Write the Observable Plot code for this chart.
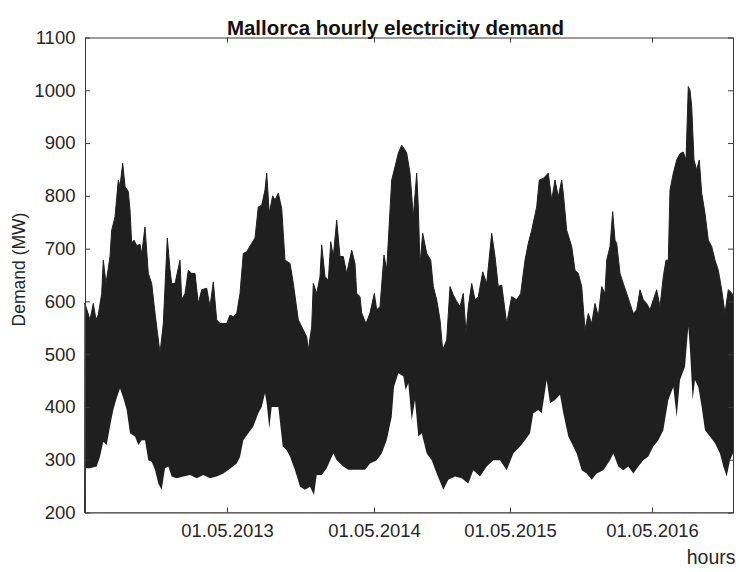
<!DOCTYPE html>
<html>
<head>
<meta charset="utf-8">
<script src="https://cdn.jsdelivr.net/npm/d3@7"></script>
<script src="https://cdn.jsdelivr.net/npm/@observablehq/plot@0.6"></script>
<style>
  html, body { margin: 0; padding: 0; background: #fff; }
</style>
</head>
<body>
<div id="chart"></div>
<script>
// Upper envelope of the hourly demand (hour index, MW)
const hoursUpper = [0,310,515,682,825,1035,1135,1302,1550,1655,1860,2065,2170,2337,2480,2685,2790,2895,3038,3205,3410,3515,3720,3925,4135,4340,4650,4855,5103,5270,5375,5580,5890,5995,6200,6405,6615,6820,7025,7235,7545,7750,7955,8165,8370,8785,8990,9195,9405,9610,9815,10025,10335,10540,10745,10955,11160,11265,11425,11635,11780,11985,12195,12400,12710,12915,13225,13535,13745,13845,14055,14155,14365,14570,14675,14880,15085,15235,15395,15605,15810,16015,16225,16535,16740,16845,17050,17155,17422,17670,17937,18085,18290,18538,18705,19015,19220,19425,19635,19840,19945,20150,20355,20565,20665,20770,20937,21185,21435,21595,21805,22010,22177,22425,22630,22835,23045,23250,23455,23622,23765,23975,24180,24385,24657,24905,25215,25420,25625,25835,26145,26455,26765,27013,27280,27485,27695,28005,28167,28415,28725,28935,29140,29345,29555,29655,29865,30175,30380,30585,30795,31000,31205,31415,31620,31825,32035,32240,32345,32550,32717,32860,32965,33170,33375,33585,33790,33995,34205,34410,34615,34825,35030,35235,35445,35650,35855,36022,36165,36270,36475,36685,36890,37095,37262,37405,37510,37615,37758,37925,38087,38235,38440,38645,38855,39060,39265,39475,39680,39885,40095,40176];
const demandUpper = [596,565,596,565,575,615,678,634,685,735,760,830,818,862,818,808,773,710,716,706,708,690,741,653,634,578,502,558,720,660,634,634,678,603,615,659,653,653,596,622,625,590,637,565,558,558,574,571,577,615,691,694,710,720,779,782,811,843,767,800,792,805,776,678,672,634,565,546,533,508,552,634,615,647,707,647,640,713,685,754,685,685,653,697,672,615,609,578,558,578,615,584,590,688,659,830,855,881,896,887,881,843,760,843,779,669,729,691,678,628,603,565,508,527,628,612,600,590,615,540,590,634,603,609,656,634,729,685,628,631,558,609,603,615,678,710,735,779,830,833,843,792,830,798,830,805,735,704,659,653,628,546,577,558,596,571,628,615,678,704,770,716,710,653,634,615,596,577,584,622,603,596,584,603,622,590,647,678,678,811,843,868,880,883,868,1007,1000,969,868,849,868,805,767,716,704,678,659,622,577,622,616,610];

// Lower envelope of the hourly demand (hour index, MW)
const hoursLower = [0,310,725,930,1135,1345,1550,1755,1965,2170,2375,2585,2790,3100,3305,3515,3720,3925,4135,4340,4545,4755,4960,5165,5375,5685,6095,6510,6925,7335,7750,8165,8575,8990,9405,9610,9815,10125,10435,10745,10955,11160,11265,11425,11575,11985,12260,12505,12710,13020,13330,13640,13950,14198,14365,14675,14985,15395,15605,16015,16325,16740,17050,17360,17670,18085,18395,18705,19015,19158,19425,19735,19880,20045,20255,20460,20665,20875,21185,21495,21805,22215,22525,22940,23355,23765,24075,24490,24905,25315,25730,26145,26555,26970,27280,27590,27795,28105,28315,28625,28830,29140,29450,29655,29965,30275,30485,30795,31105,31415,31725,32135,32550,32755,33065,33375,33685,33995,34305,34615,34925,35235,35545,35855,36165,36475,36685,36890,37200,37405,37510,37675,37820,38025,38235,38440,38750,39060,39370,39575,39785,39990,40176];
const demandLower = [284,284,287,306,334,328,363,394,417,435,417,394,350,344,328,337,337,299,296,281,255,243,284,287,268,265,268,271,265,271,265,268,274,283,293,305,337,350,363,388,400,426,407,359,400,400,325,318,306,280,249,243,249,233,271,271,284,312,299,287,281,281,281,281,293,299,312,337,381,438,464,458,432,445,375,413,344,350,312,299,274,243,262,268,265,255,280,268,287,299,299,280,312,325,337,350,388,394,388,451,407,413,423,388,344,325,312,280,274,262,274,280,299,312,287,280,287,274,287,299,306,325,337,356,413,438,381,451,476,552,508,413,451,438,400,356,344,331,312,287,268,299,312];

// Axis ticks
const xTickHours = [8804, 17918, 26350, 35154];
const xTickLabels = ["01.05.2013", "01.05.2014", "01.05.2015", "01.05.2016"];
const yTicks = [200, 300, 400, 500, 600, 700, 800, 900, 1000, 1100];

const titleText = "Mallorca hourly electricity demand";
const yLabel = "Demand (MW)";
const xLabel = "hours";

const upper = hoursUpper.map((h, i) => ({h, v: demandUpper[i]}));
const lower = hoursLower.map((h, i) => ({h, v: demandLower[i]}));

const ink = "#262626";
const dataColor = "#1f1f1f";

const chart = Plot.plot({
  width: 739,
  height: 572,
  marginLeft: 85,
  marginRight: 6,
  marginTop: 37.5,
  marginBottom: 59.5,
  style: {fontFamily: "'Liberation Sans', Arial, Helvetica, sans-serif", fontSize: "18.5px", color: ink, background: "white", overflow: "visible"},
  x: {domain: [0, 40176], ticks: xTickHours, tickFormat: d => xTickLabels[xTickHours.indexOf(d)], tickSize: 0, tickPadding: 11, label: null},
  y: {domain: [200, 1100], ticks: yTicks, tickFormat: d => String(d), tickSize: 0, tickPadding: 10, label: null},
  marks: [
    Plot.areaY(upper, {x: "h", y1: 200, y2: "v", fill: dataColor, stroke: dataColor, strokeWidth: 1}),
    Plot.areaY(lower, {x: "h", y1: 200, y2: "v", fill: "white"}),
    Plot.frame({stroke: "#3a3a3a", strokeWidth: 1}),
    Plot.tickX(xTickHours, {x: d => d, insetTop: 470, stroke: "#3a3a3a"}),
    Plot.tickX(xTickHours, {x: d => d, insetBottom: 470, stroke: "#3a3a3a"}),
    Plot.tickY(yTicks, {y: d => d, insetRight: 643, stroke: "#3a3a3a"}),
    Plot.tickY(yTicks, {y: d => d, insetLeft: 643, stroke: "#3a3a3a"}),
    Plot.text([titleText], {frameAnchor: "top", dx: -14, dy: -18, fontWeight: "bold", fontSize: 20.5, fill: "#111"}),
    Plot.text([yLabel], {frameAnchor: "left", textAnchor: "middle", dx: -66, dy: -6, rotate: -90, fontSize: 17.5, fill: ink}),
    Plot.text([xLabel], {frameAnchor: "bottom-right", textAnchor: "end", dx: 2, dy: 51, fontSize: 19.5, fill: ink})
  ]
});
document.getElementById("chart").appendChild(chart);
</script>
</body>
</html>
